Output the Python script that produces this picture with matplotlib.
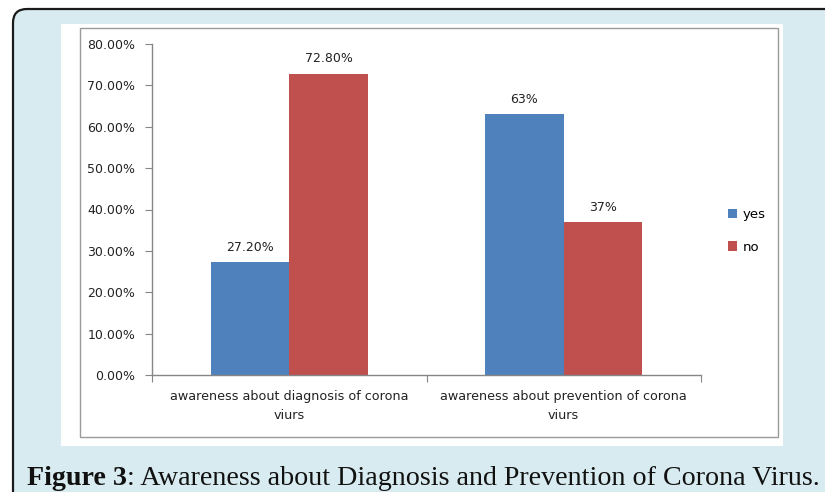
import matplotlib
matplotlib.use("Agg")
import matplotlib.pyplot as plt
from matplotlib.patches import FancyBboxPatch, Rectangle
import numpy as np

categories = ["awareness about diagnosis of corona\nviurs",
              "awareness about prevention of corona\nviurs"]
series_names = ["yes", "no"]
yes_vals = [0.272, 0.63]
no_vals = [0.728, 0.37]
yes_labels = ["27.20%", "63%"]
no_labels = ["72.80%", "37%"]
yticks = [0.0, 0.1, 0.2, 0.3, 0.4, 0.5, 0.6, 0.7, 0.8]
ytick_labels = ["0.00%", "10.00%", "20.00%", "30.00%", "40.00%",
                "50.00%", "60.00%", "70.00%", "80.00%"]

W, H = 825, 492
fig = plt.figure(figsize=(W / 100, H / 100), dpi=100)
fig.patch.set_facecolor("white")

# background / frame axes in pixel coords
bg = fig.add_axes([0, 0, 1, 1], zorder=-1)
bg.set_xlim(0, W)
bg.set_ylim(H, 0)
bg.axis("off")
bg.add_patch(FancyBboxPatch((13, 9), W + 40, H + 40,
                            boxstyle="round,pad=0,rounding_size=14",
                            facecolor="#d8ebf0", edgecolor="#1a1a1a", lw=1.6))
bg.add_patch(Rectangle((61, 24), 722, 422, facecolor="white", edgecolor="none"))
bg.add_patch(Rectangle((79.5, 27.5), 698, 409, facecolor="none",
                       edgecolor="#9a9a9a", lw=1.0))
cap_fs = 20.2
bg.text(27, 485, "Figure 3", fontsize=cap_fs, fontweight="bold",
        family="Liberation Serif", va="baseline", ha="left", color="#111111")
t = bg.text(0, 0, "Figure 3", fontsize=cap_fs, fontweight="bold",
            family="Liberation Serif", alpha=0)
fig.canvas.draw()
bb = t.get_window_extent()
bg.text(27 + bb.width, 485,
        ": Awareness about Diagnosis and Prevention of Corona Virus.",
        fontsize=cap_fs, family="Liberation Serif", va="baseline", ha="left",
        color="#111111")

# chart axes
left, right, top, bottom = 152, 701, 44, 375
ax = fig.add_axes([left / W, 1 - bottom / H, (right - left) / W, (bottom - top) / H])
ax.patch.set_alpha(0)
x = np.arange(len(categories))
bw = 0.286
b1 = ax.bar(x - bw / 2, yes_vals, bw, color="#4f81bd", label=series_names[0])
b2 = ax.bar(x + bw / 2, no_vals, bw, color="#c0504d", label=series_names[1])
for rects, labs in ((b1, yes_labels), (b2, no_labels)):
    for r, lab in zip(rects, labs):
        ax.annotate(lab, (r.get_x() + r.get_width() / 2, r.get_height()),
                    xytext=(0, 6), textcoords="offset points",
                    ha="center", va="bottom", fontsize=9, color="#222222")

ax.set_xlim(-0.5, 1.5)
ax.set_ylim(0, 0.8)
ax.set_yticks(yticks)
ax.set_yticklabels(ytick_labels)
ax.set_xticks([-0.5, 0.5, 1.5])
ax.set_xticklabels([])
ax.set_xticks(x, minor=True)
ax.set_xticklabels(categories, minor=True, linespacing=1.55)
ax.tick_params(axis="x", which="minor", length=0, pad=11, labelsize=9.2,
               labelcolor="#222222")
ax.tick_params(axis="x", which="major", length=5, color="#868686")
ax.tick_params(axis="y", length=5, color="#868686", pad=7, labelsize=9,
               labelcolor="#222222")
for s in ("top", "right"):
    ax.spines[s].set_visible(False)
for s in ("left", "bottom"):
    ax.spines[s].set_color("#868686")
    ax.spines[s].set_linewidth(1.0)

handles, labels = ax.get_legend_handles_labels()
fig.legend(handles, labels, loc="center left",
           bbox_to_anchor=(716 / W, 1 - 231 / H), frameon=False,
           fontsize=9.5, handlelength=0.7, handleheight=0.7,
           handletextpad=0.4, labelspacing=1.45)

fig.savefig("out.png", dpi=100)
